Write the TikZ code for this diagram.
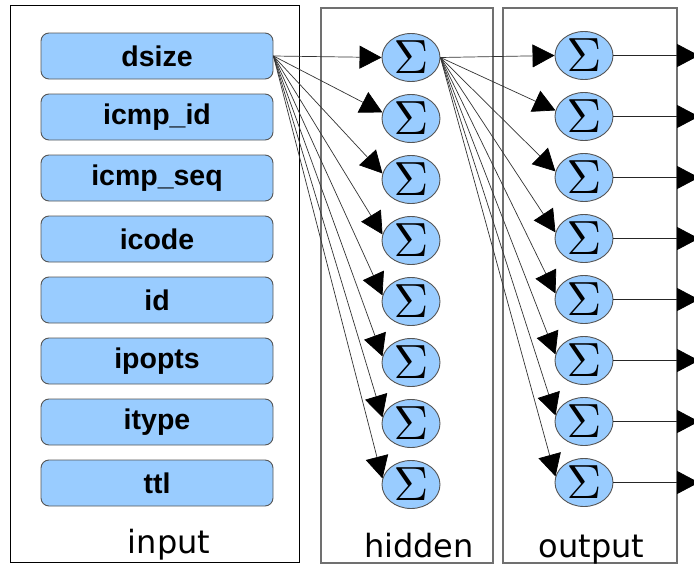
\documentclass[tikz,border=0pt]{standalone}
\usepackage{fontspec}
\usepackage{graphicx}
\usetikzlibrary{shapes.geometric,arrows.meta}
\newfontfamily\boxfont{Liberation Sans}
\newfontfamily\labfont{DejaVu Sans}
\definecolor{nodeblue}{HTML}{99CCFF}
\definecolor{edgegray}{HTML}{555555}
\definecolor{framegray}{HTML}{707070}
\begin{document}
\begin{tikzpicture}[x=1pt,y=-1pt,
  inbox/.style={draw=edgegray, fill=nodeblue, rounded corners=8pt,
    minimum width=232pt, minimum height=46pt, inner sep=0pt, line width=0.9pt,
    font=\boxfont\bfseries\fontsize{28.5}{28.5}\selectfont},
  neuron/.style={ellipse, draw=edgegray, fill=nodeblue, minimum width=58pt,
    minimum height=48pt, inner sep=0pt, line width=0.9pt},
  inframe/.style={draw=black, line width=1pt},
  layerframe/.style={draw=framegray, line width=1.6pt},
  conn/.style={draw=black!80, line width=0.7pt,
    -{Triangle[length=22pt,width=23pt,color=black]}},
  outconn/.style={draw=black!85, line width=0.8pt,
    -{Triangle[length=22pt,width=23pt,color=black]}},
  lab/.style={font=\labfont\fontsize{32}{32}\selectfont, anchor=base, inner sep=0pt}]
\useasboundingbox (0,0) rectangle (694,565);
% frames
\draw[inframe] (10,5) rectangle (299,562);
\draw[layerframe] (321,8) rectangle (493,563);
\draw[layerframe] (503,8) rectangle (677,563);
% input boxes
\foreach \t [count=\k] in {dsize,icmp\_id,icmp\_seq,icode,id,ipopts,itype,ttl}{
  \node[inbox] (in\k) at (157,{56+61*(\k-1)}) {\t};
}
% neurons
\foreach \k in {1,...,8}{
  \node[neuron] (h\k) at (411,{57.5+61*(\k-1)}) {\scalebox{4.8}{$\Sigma$}};
  \node[neuron] (o\k) at (584,{55.5+61*(\k-1)}) {\scalebox{4.8}{$\Sigma$}};
  \coordinate (out\k) at (699,{55.5+61*(\k-1)});
}
% connectors
\draw[conn] (in1.east) -- (h1.west);
\draw[conn] (h1.east) -- (o1.west);
\foreach \k in {2,...,8}{
  \draw[conn] (in1.east) -- (h\k.168);
  \draw[conn] (h1.east) -- (o\k.168);
}
\foreach \k in {1,...,8}{
  \draw[outconn] (o\k.east) -- (out\k);
}
% labels
\node[lab] (inlab) at (169,553) {input};
\node[lab] (hidlab) at (419,557) {hidden};
\node[lab] (outlab) at (591.5,557) {output};
\end{tikzpicture}
\end{document}
